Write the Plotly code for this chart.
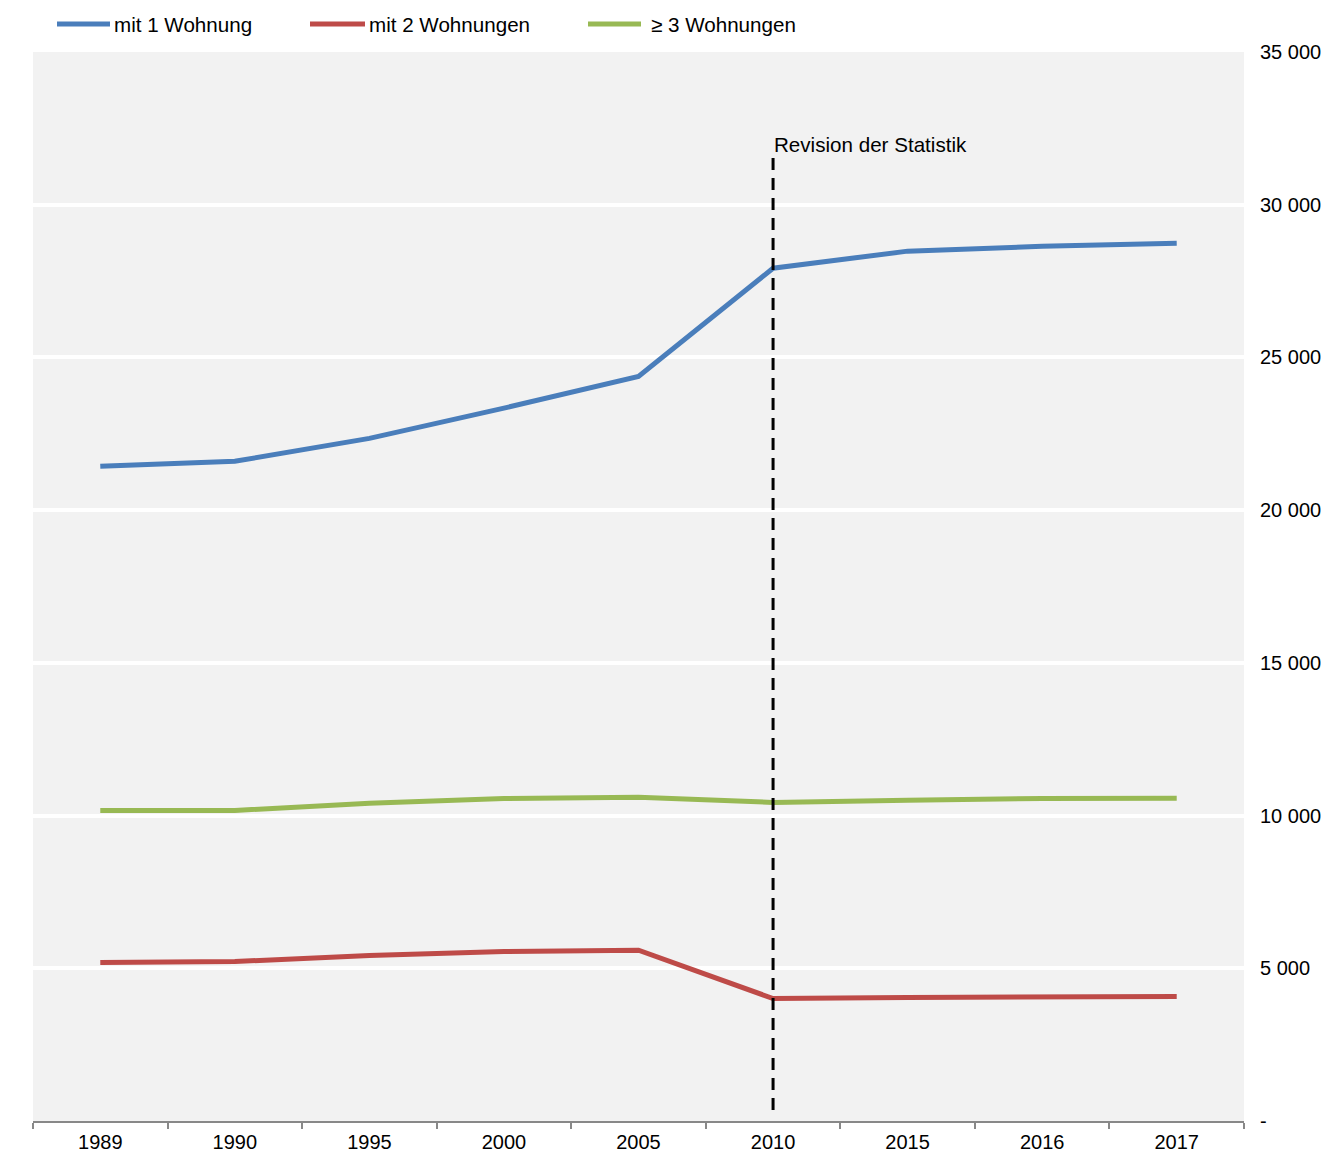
import plotly.graph_objects as go

years = ["1989", "1990", "1995", "2000", "2005", "2010", "2015", "2016", "2017"]
mit1 = [21440, 21600, 22350, 23340, 24380, 27920, 28480, 28640, 28740]
mit2 = [5190, 5220, 5420, 5550, 5590, 4010, 4040, 4080, 4080]
mit3 = [10170, 10170, 10400, 10560, 10600, 10430, 10500, 10560, 10570]
series_names = ["mit 1 Wohnung", "mit 2 Wohnungen", "≥ 3 Wohnungen"]
colors = ["#4a7ebb", "#be4b48", "#98b954"]
y_tickvals = [0, 5000, 10000, 15000, 20000, 25000, 30000, 35000]
y_ticktext = ["-", "5 000", "10 000", "15 000", "20 000", "25 000", "30 000", "35 000"]
revision_year = "2010"
revision_label = "Revision der Statistik"

FONT = "Liberation Sans, Arial, sans-serif"
FS = 20.6
FS_Y = 20
OFF = 8  # page body margin
W, H = 1329 - OFF, 1153 - OFF
ML, MT = 33 - OFF, 52 - OFF
PW, PH = 1211, 1069
MR, MB = W - ML - PW, H - MT - PH

def px_x(p):
    return (p - OFF - ML) / PW

def px_y(p):
    return (MT + PH - (p - OFF)) / PH

fig = go.Figure()
for name, vals, col in zip(series_names, [mit1, mit2, mit3], colors):
    fig.add_trace(go.Scatter(x=years, y=vals, mode="lines", name=name, showlegend=False,
                             line=dict(color=col, width=5)))

# manual legend (layout positions in page pixels)
legend_line_px = [(57, 110), (310, 365), (588, 641)]
legend_text_px = [112, 367, 649]
legend_y_px = 24
for (a, b), tx, name, col in zip(legend_line_px, legend_text_px, series_names, colors):
    fig.add_shape(type="line", xref="paper", yref="paper", x0=px_x(a), x1=px_x(b),
                  y0=px_y(legend_y_px), y1=px_y(legend_y_px),
                  line=dict(color=col, width=5))
    fig.add_annotation(xref="paper", yref="paper", x=px_x(tx), y=px_y(legend_y_px),
                       text=name, showarrow=False, xanchor="left", yanchor="middle",
                       font=dict(family=FONT, size=FS, color="black"))

rev_idx = years.index(revision_year)
fig.add_shape(type="line", xref="x", yref="y", x0=rev_idx, x1=rev_idx,
              y0=360, y1=31530, line=dict(color="black", width=3, dash="12px,8px"))
fig.add_annotation(x=rev_idx, y=31960, xref="x", yref="y", text=revision_label,
                   showarrow=False, xanchor="left", yanchor="middle", xshift=-1,
                   font=dict(family=FONT, size=FS, color="black"))

fig.update_layout(
    width=W, height=H,
    margin=dict(l=ML, r=MR, t=MT, b=MB, autoexpand=False),
    paper_bgcolor="white", plot_bgcolor="#f2f2f2",
    font=dict(family=FONT, size=FS, color="black"),
    showlegend=False,
    xaxis=dict(type="category", range=[-0.5, 8.5], showgrid=False, zeroline=False,
               showline=True, linecolor="#888888", linewidth=2, automargin=False,
               ticks="outside", tickson="boundaries", ticklen=6, tickcolor="#888888",
               tickwidth=2, ticklabelstandoff=2, tickfont=dict(family=FONT, size=FS_Y)),
    yaxis=dict(side="right", range=[0, 35000], tickvals=y_tickvals, ticktext=y_ticktext,
               showgrid=True, gridcolor="white", gridwidth=4, zeroline=False,
               showline=False, ticks="", ticklabelstandoff=15, automargin=False,
               tickfont=dict(family=FONT, size=FS_Y)),
)

fig.write_html("out.html")
